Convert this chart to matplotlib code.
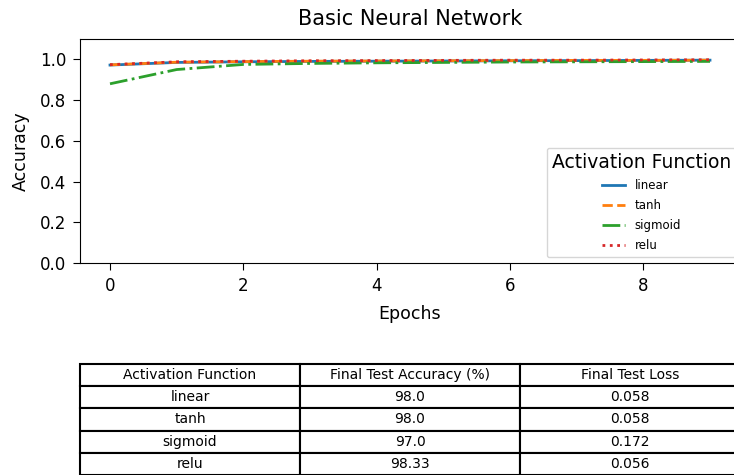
import matplotlib
matplotlib.use('Agg')
import matplotlib.pyplot as plt
import numpy as np

### Data

epochs = np.arange(10)
activations = ['linear', 'tanh', 'sigmoid', 'relu']
acc_linear = [0.972, 0.985, 0.988, 0.990, 0.991, 0.992, 0.993, 0.994, 0.995, 0.996]
acc_tanh = [0.973, 0.986, 0.989, 0.991, 0.992, 0.993, 0.994, 0.995, 0.995, 0.996]
acc_sigmoid = [0.880, 0.950, 0.975, 0.980, 0.983, 0.985, 0.987, 0.988, 0.989, 0.990]
acc_relu = [0.974, 0.988, 0.991, 0.993, 0.994, 0.995, 0.996, 0.996, 0.997, 0.998]

final_accuracy = ['98.0', '98.0', '97.0', '98.33']
final_loss = ['0.058', '0.058', '0.172', '0.056']
col_labels = ['Activation Function', 'Final Test Accuracy (%)', 'Final Test Loss']

### Figure

fig = plt.figure(figsize=(7.34, 4.75), dpi=100)
ax = fig.add_axes([80 / 734, 212 / 475, 660 / 734, 224 / 475])

styles = ['-', '--', '-.', ':']
series = [acc_linear, acc_tanh, acc_sigmoid, acc_relu]
for name, values, ls in zip(activations, series, styles):
    ax.plot(epochs, values, linestyle=ls, linewidth=2, label=name)

ax.set_ylim(0, 1.1)
ax.set_title('Basic Neural Network', fontsize=15, pad=10)
ax.set_xlabel('Epochs', fontsize=12.5, labelpad=7)
ax.set_ylabel('Accuracy', fontsize=12.5, labelpad=7)
ax.tick_params(labelsize=12, length=5, pad=5)

leg = ax.legend(title='Activation Function', fontsize=8.5, loc='upper left',
                bbox_to_anchor=(0.7076, 0.513), borderaxespad=0,
                labelspacing=0.6)
leg.get_title().set_fontsize(13.5)

# Summary table under the plot
cell_text = [[a, acc, loss] for a, acc, loss in zip(activations, final_accuracy, final_loss)]
tbl = ax.table(cellText=cell_text, colLabels=col_labels, cellLoc='center',
               bbox=[0, -0.946, 1, 0.495])
tbl.auto_set_font_size(False)
tbl.set_fontsize(10)
for cell in tbl.get_celld().values():
    cell.set_linewidth(1.5)

fig.savefig('out.png', dpi=100)
plt.close(fig)
